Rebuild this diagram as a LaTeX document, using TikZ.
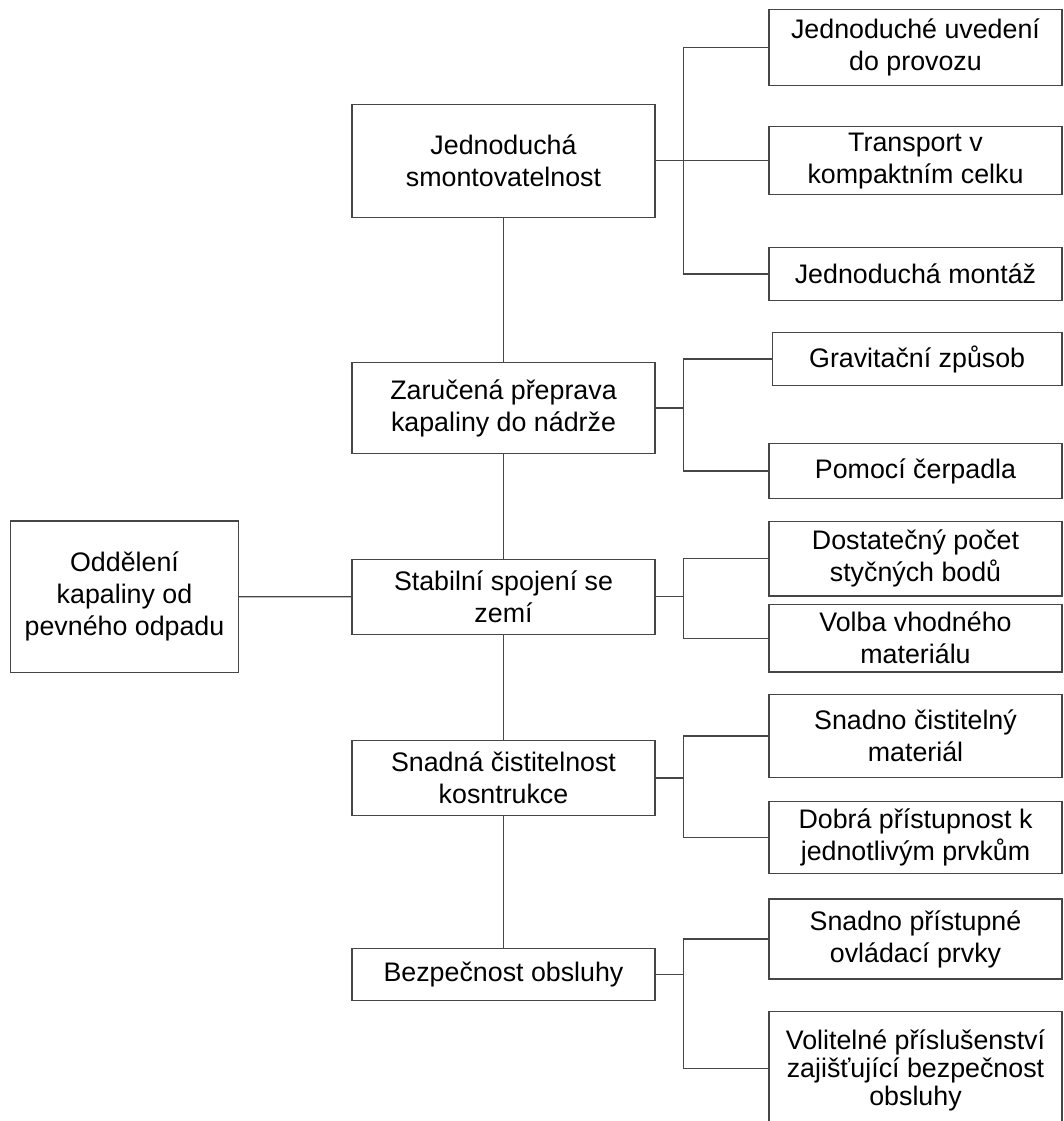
\documentclass[tikz,border=0pt]{standalone}
\usepackage{fontspec}
\setmainfont{Liberation Sans}
\definecolor{edge}{RGB}{70,70,70}
\begin{document}
\begin{tikzpicture}[x=1pt,y=-1pt,
  box/.style={draw=edge,line width=1.2pt,rectangle,inner sep=0pt,align=center,
    font=\fontsize{26.8}{32}\selectfont,text=black},
  mid/.style={box,minimum width=303pt},
  leaf/.style={box,minimum width=293pt},
  conn/.style={draw=edge,line width=1.2pt}]
\useasboundingbox (0,0) rectangle (1063,1121);
% root
\node[box,minimum width=227.6pt,minimum height=151.3pt] (root) at (124.5,596.7) {Oddělení\\kapaliny od\\pevného odpadu};
% middle column
\node[mid,minimum height=113pt] (m1) at (503.5,160.8) {Jednoduchá\\smontovatelnost};
\node[mid,minimum height=90.6pt] (m2) at (503.5,408) {Zaručená přeprava\\kapaliny do nádrže};
\node[mid,minimum height=75pt] (m3) at (503.5,596.8) {Stabilní spojení se\\zemí};
\node[mid,minimum height=75.4pt] (m4) at (503.5,778) {Snadná čistitelnost\\kosntrukce};
\node[mid,minimum height=52.4pt] (m5) at (503.5,974.5) {Bezpečnost obsluhy};
% right column
\node[leaf,minimum height=76pt] (r1) at (915.5,47.3) {Jednoduché uvedení\\do provozu};
\node[leaf,minimum height=68pt] (r2) at (915.5,160.8) {Transport v\\kompaktním celku};
\node[leaf,minimum height=53pt] (r3) at (915.5,274) {Jednoduchá montáž};
\node[box,minimum width=289.7pt,minimum height=52.6pt] (r4) at (917.15,359) {Gravitační způsob};
\node[leaf,minimum height=55.4pt] (r5) at (915.5,471) {Pomocí čerpadla};
\node[leaf,minimum height=74.3pt] (r6) at (915.5,558.8) {Dostatečný počet\\styčných bodů};
\node[leaf,minimum height=67.7pt] (r7) at (915.5,638.2) {Volba vhodného\\materiálu};
\node[leaf,minimum height=83.4pt] (r8) at (915.5,736) {Snadno čistitelný\\materiál};
\node[leaf,minimum height=71.6pt] (r9) at (915.5,837.5) {Dobrá přístupnost k\\jednotlivým prvkům};
\node[leaf,minimum height=80pt] (r10) at (915.5,939) {Snadno přístupné\\ovládací prvky};
\node[leaf,minimum height=117pt,font=\fontsize{26.8}{28}\selectfont] (r11) at (915.5,1070.2) {Volitelné příslušenství\\zajišťující bezpečnost\\obsluhy};
% branch points
\coordinate (b1) at (683.3,160.8);
\coordinate (b2) at (683.3,408);
\coordinate (b3) at (683.3,596.8);
\coordinate (b4) at (683.3,778);
\coordinate (b5) at (683.3,974.5);
\coordinate (t11) at (683.3,1068.3);
% trunk
\draw[conn] (root.east) -- (m3.west);
\draw[conn] (m1.south) -- (m2.north);
\draw[conn] (m2.south) -- (m3.north);
\draw[conn] (m3.south) -- (m4.north);
\draw[conn] (m4.south) -- (m5.north);
% branches
\draw[conn] (m1.east) -- (b1);
\draw[conn] (b1) |- (r1.west);
\draw[conn] (b1) -- (r2.west);
\draw[conn] (b1) |- (r3.west);
\draw[conn] (m2.east) -- (b2);
\draw[conn] (b2) |- (r4.west);
\draw[conn] (b2) |- (r5.west);
\draw[conn] (m3.east) -- (b3);
\draw[conn] (b3) |- (r6.west);
\draw[conn] (b3) |- (r7.west);
\draw[conn] (m4.east) -- (b4);
\draw[conn] (b4) |- (r8.west);
\draw[conn] (b4) |- (r9.west);
\draw[conn] (m5.east) -- (b5);
\draw[conn] (b5) -- (t11) -- (r11.west |- t11);
\draw[conn] (b5) |- (r10.west);
\end{tikzpicture}
\end{document}
